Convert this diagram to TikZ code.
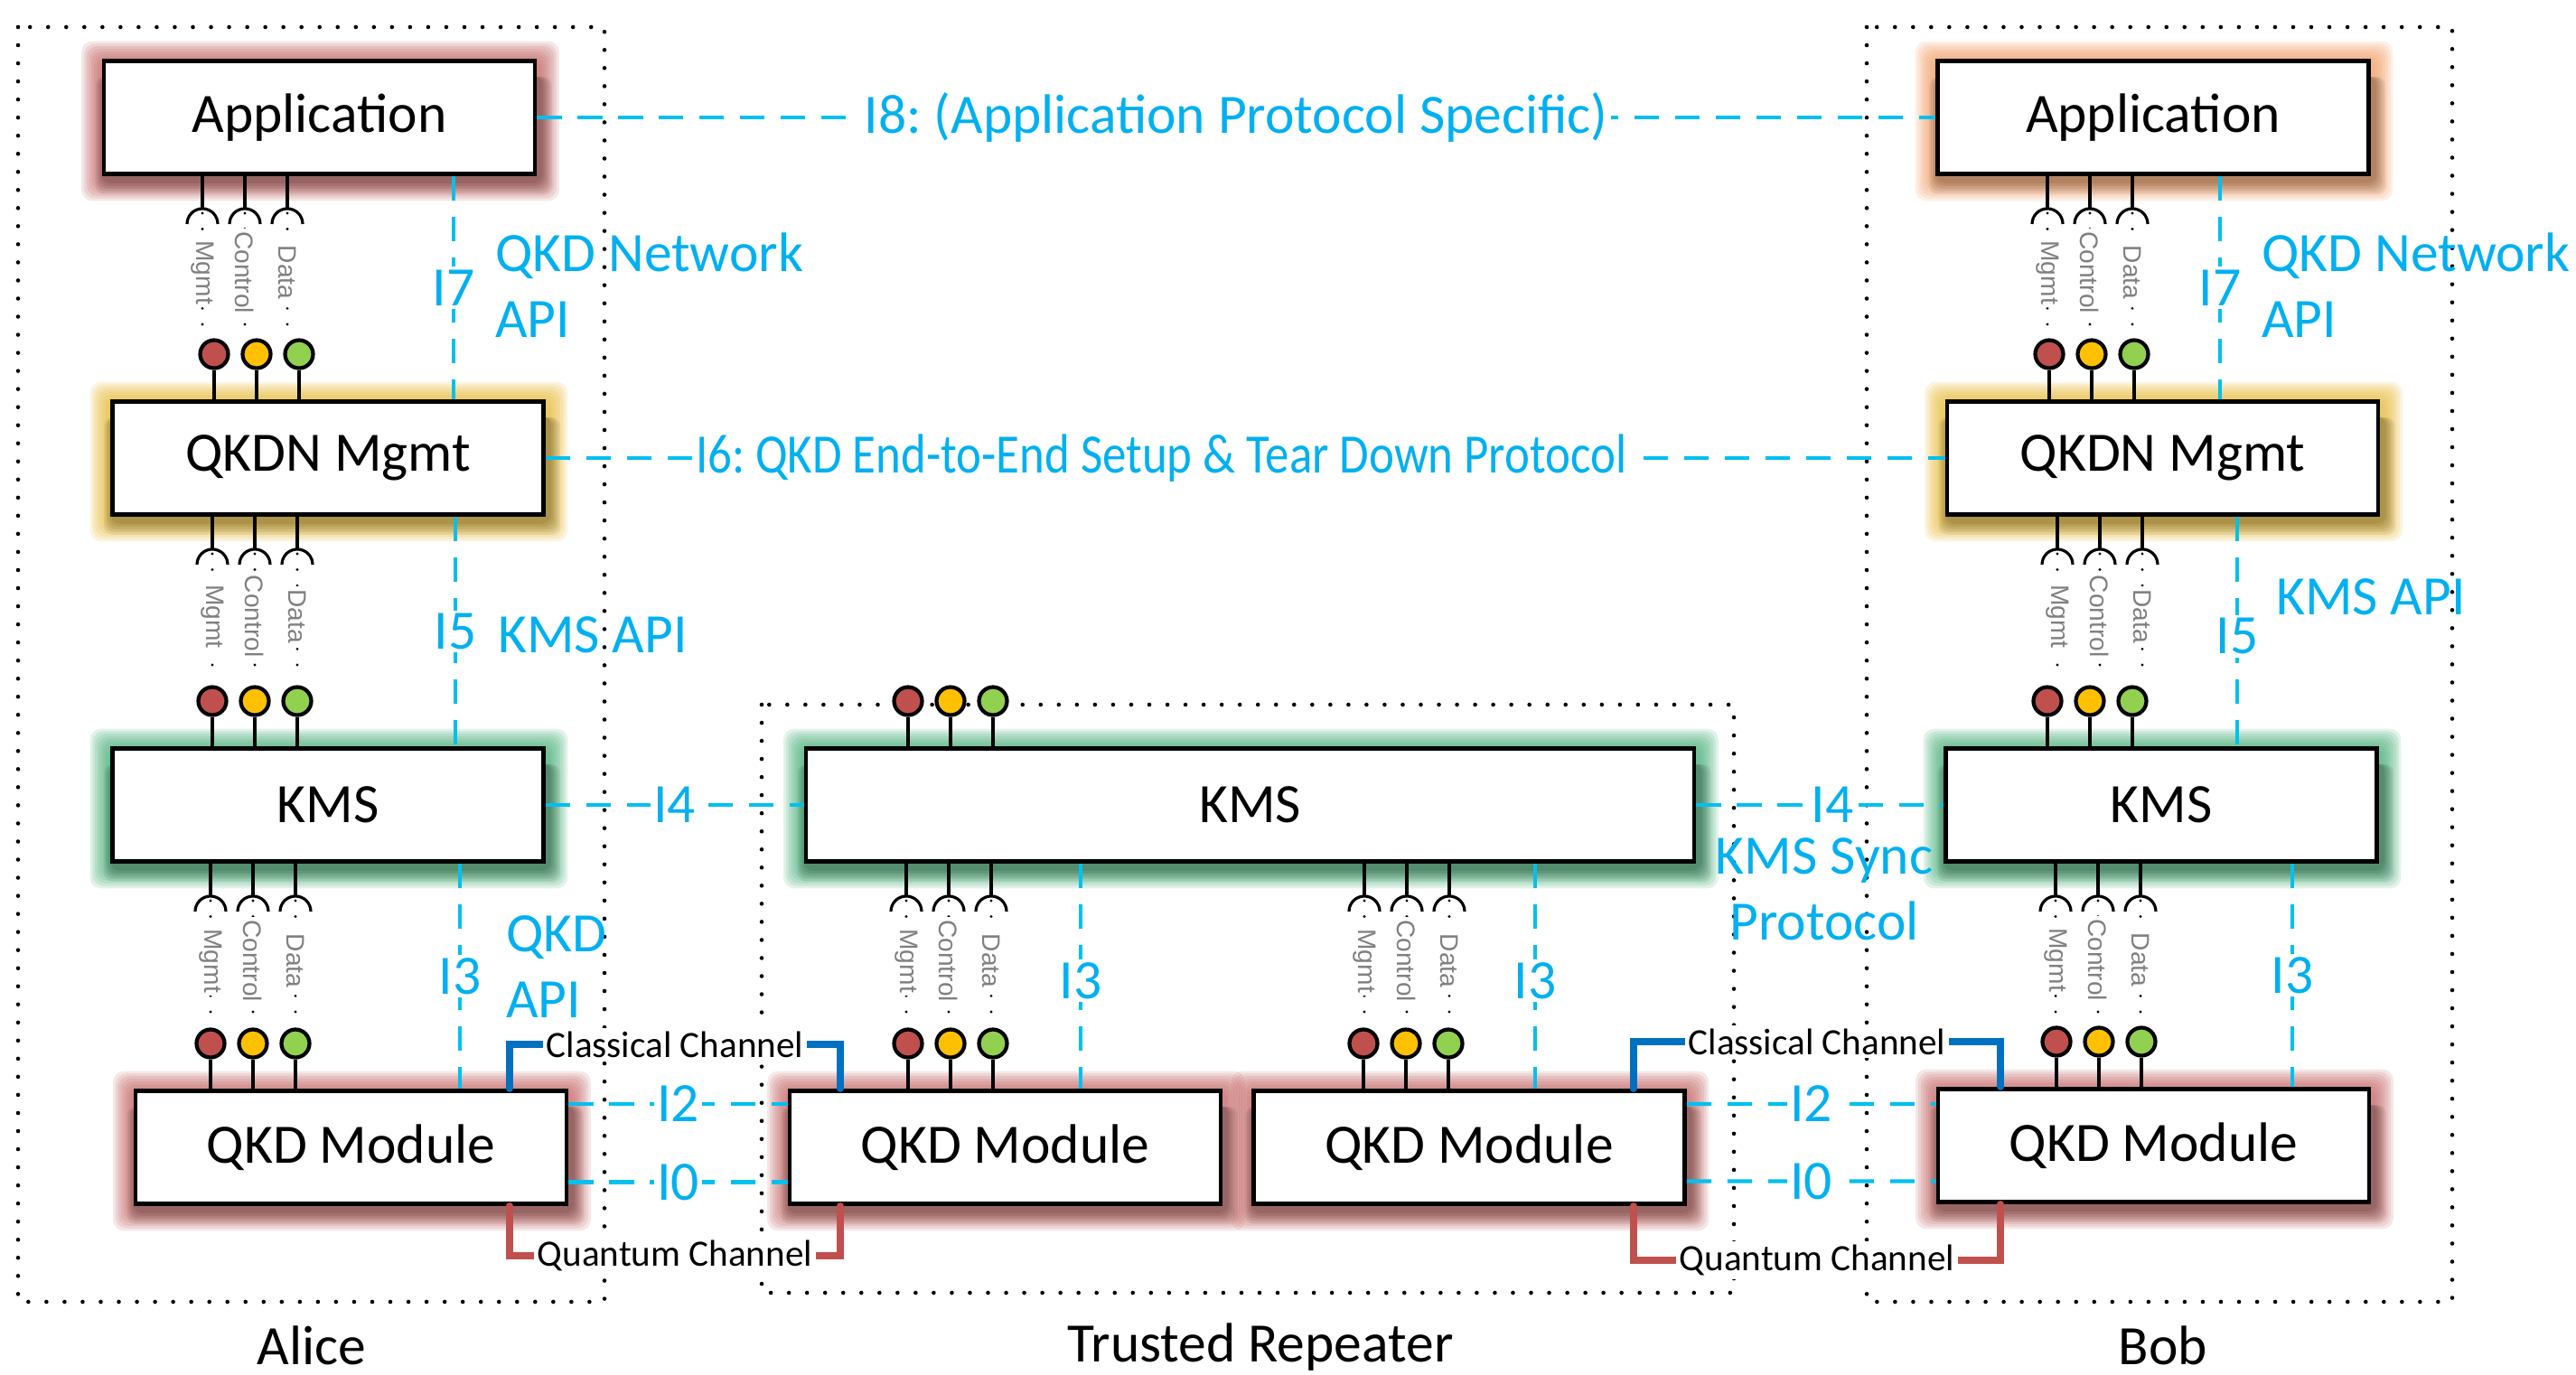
\documentclass[tikz,border=0pt]{standalone}
\usepackage{fontspec}
\setmainfont{Carlito}
\newfontfamily\tagfont{Liberation Sans}
\usepackage{tikz}
\usetikzlibrary{calc, backgrounds}

\definecolor{ifcyan}{RGB}{0,176,240}
\definecolor{ifline}{RGB}{0,192,240}
\definecolor{mgmtred}{RGB}{192,80,77}
\definecolor{ctrlyellow}{RGB}{255,192,0}
\definecolor{datagreen}{RGB}{146,208,80}
\definecolor{chblue}{RGB}{0,112,192}
\definecolor{chred}{RGB}{192,80,77}
\definecolor{glowred}{RGB}{190,92,90}
\definecolor{gloworange}{RGB}{240,150,90}
\definecolor{glowgold}{RGB}{228,180,40}
\definecolor{glowgreen}{RGB}{60,168,110}

% socket on the upper block, lollipop on the lower one
\newcommand{\lollilink}[4]{%
  \foreach \lbl/\col [count=\i from 0] in {Mgmt/mgmtred,Control/ctrlyellow,Data/datagreen}{%
    \pgfmathsetmacro{\xs}{#3+0.47*\i}%
    \pgfmathsetmacro{\xb}{#4+0.47*\i}%
    \draw[stub] (\xs,0 |- #1.south) -- ++(0,-0.36) coordinate (top);
    \draw[stub] ($(top)+(-0.17,-0.17)$) arc[start angle=180, end angle=0, radius=0.17];
    \node[ball, fill=\col, yshift=0.5cm] (pin) at (\xb,0 |- #2.north) {};
    \draw[stub] (pin) -- (pin |- #2.north);
    \draw[tagline] ($(top)+(0,-0.05)$) -- ($(top |- pin.north)+(0,0.07)$) node[midway, tag]{\lbl};
  }}

\newcommand{\glowbox}[2]{%
  \foreach \k in {1,...,8}{%
    \fill[#2, opacity=0.15, rounded corners=0.12cm] ([shift={(-0.028*\k,0.028*\k-0.03)}]#1.north west) rectangle ([shift={(0.028*\k+0.02,-0.028*\k-0.05)}]#1.south east);}%
  \foreach \k in {1,...,5}{%
    \fill[black, opacity=0.06, rounded corners=0.1cm] ([shift={(-0.02*\k+0.03,-0.2)}]#1.north west) rectangle ([shift={(0.025*\k+0.04,-0.03*\k-0.05)}]#1.south east);}%
}

\begin{document}
\frenchspacing
\begin{tikzpicture}[
    block/.style={draw, line width=1.4pt, fill=white, minimum width=4.77cm, minimum height=1.25cm, inner sep=0pt, font=\fontsize{17.5}{20}\selectfont},
    group/.style={line width=1.3pt, line cap=round, dash pattern=on 0pt off 5.7pt},
    iface/.style={ifline, line width=1.2pt, dash pattern=on 7.7pt off 5.1pt},
    ilabel/.style={text=ifcyan, inner sep=1pt, font=\fontsize{17.5}{20.7}\selectfont},
    stub/.style={line width=0.9pt},
    ball/.style={circle, draw, line width=1.2pt, minimum size=0.31cm, inner sep=0pt},
    tag/.style={text=gray, fill=white, rotate=-90, inner sep=1pt, font=\tagfont\fontsize{8}{9}\selectfont},
    tagline/.style={line width=0.9pt, line cap=round, dash pattern=on 0pt off 5pt},
    chan/.style={line width=2.2pt, line cap=round},
    chlabel/.style={text=black, fill=white, inner sep=1pt, font=\fontsize{11.7}{13}\selectfont},
    site/.style={anchor=base, inner sep=0pt, font=\fontsize{17.5}{20}\selectfont}]
\useasboundingbox (0,0) rectangle (28.51,-15.22);

\draw[group] (0.20,-0.30) rectangle (6.69,-14.41);
\draw[group] (8.43,-7.80) rectangle (19.19,-14.31);
\draw[group] (20.66,-0.30) rectangle (27.14,-14.41);
\node[site] (alice) at (3.45,-15.10) {Alice};
\node[site] (repeater) at (13.95,-15.07) {Trusted Repeater};
\node[site] (bob) at (23.94,-15.10) {Bob};

\node[block] (aapp) at (3.535,-1.30) {Application};
\node[block] (amgmt) at (3.63,-5.07) {QKDN Mgmt};
\node[block] (akms) at (3.63,-8.91) {KMS};
\node[block] (amod) at (3.885,-12.70) {QKD Module};
\node[block, minimum width=9.83cm] (rkms) at (13.835,-8.91) {KMS};
\node[block] (rmod1) at (11.125,-12.70) {QKD Module};
\node[block] (rmod2) at (16.26,-12.70) {QKD Module};
\node[block] (bapp) at (23.83,-1.30) {Application};
\node[block] (bmgmt) at (23.935,-5.07) {QKDN Mgmt};
\node[block] (bkms) at (23.92,-8.91) {KMS};
\node[block] (bmod) at (23.835,-12.68) {QKD Module};

\begin{pgfonlayer}{background}
  \foreach \b/\c in {aapp/glowred,amod/glowred,rmod1/glowred,rmod2/glowred,bmod/glowred,bapp/gloworange,amgmt/glowgold,bmgmt/glowgold,akms/glowgreen,rkms/glowgreen,bkms/glowgreen}{\glowbox{\b}{\c}}
\end{pgfonlayer}

\lollilink{aapp}{amgmt}{2.24}{2.37}
\lollilink{amgmt}{akms}{2.35}{2.35}
\lollilink{akms}{amod}{2.33}{2.33}
\lollilink{rkms}{rmod1}{10.03}{10.05}
\lollilink{rkms}{rmod2}{15.10}{15.09}
\lollilink{bapp}{bmgmt}{22.66}{22.68}
\lollilink{bmgmt}{bkms}{22.77}{22.66}
\lollilink{bkms}{bmod}{22.75}{22.76}
\foreach \col [count=\i from 0] in {mgmtred,ctrlyellow,datagreen}{
  \pgfmathsetmacro{\xb}{10.05+0.47*\i}
  \node[ball, fill=\col, yshift=0.5cm] (rtop\i) at (\xb,0 |- rkms.north) {};
  \draw[stub] (rtop\i) -- (rtop\i |- rkms.north);
}

\draw[iface] (aapp.east) -- node[ilabel, fill=white] (i8) {I8: (Application Protocol Specific)} (bapp.west);
\draw[iface] (amgmt.east) -- node[ilabel, fill=white, pos=0.44] (i6) {\scalebox{0.86}[1]{I6: QKD End-to-End Setup \& Tear Down Protocol}} (bmgmt.west);
\draw[iface] (akms.east) -- node[ilabel, fill=white] (i4a) {I4} (rkms.west);
\draw[iface] (rkms.east) -- node[ilabel, fill=white, pos=0.55] (i4b) {I4} (bkms.west);
\node[ilabel, align=center] (sync) at (20.19,-9.84) {KMS Sync\\Protocol};
\draw[iface] ([yshift=0.48cm]amod.east) -- node[ilabel, fill=white] (i2a) {I2} ([yshift=0.48cm]rmod1.west);
\draw[iface] ([yshift=-0.385cm]amod.east) -- node[ilabel, fill=white] (i0a) {I0} ([yshift=-0.385cm]rmod1.west);
\draw[iface] ([yshift=0.48cm]rmod2.east) -- node[ilabel, fill=white] (i2b) {I2} ([yshift=0.46cm]bmod.west);
\draw[iface] ([yshift=-0.375cm]rmod2.east) -- node[ilabel, fill=white] (i0b) {I0} ([yshift=-0.395cm]bmod.west);

\draw[iface] (5.02,0 |- aapp.south) -- node[ilabel, fill=white] (i7a) {I7} (5.02,0 |- amgmt.north);
\node[ilabel, align=left, anchor=west] (netapia) at (5.44,-3.16) {QKD Network\\API};
\draw[iface] (5.04,0 |- amgmt.south) -- node[ilabel, fill=white] (i5a) {I5} (5.04,0 |- akms.north);
\node[ilabel, anchor=west] (kmsapia) at (5.47,-7.03) {KMS API};
\draw[iface] (5.09,0 |- akms.south) -- node[ilabel, fill=white] (i3a) {I3} (5.09,0 |- amod.north);
\node[ilabel, align=left, anchor=west] (qkdapia) at (5.56,-10.70) {QKD\\API};
\draw[iface] (11.96,0 |- rkms.south) -- node[ilabel, fill=white, pos=0.52] (i3b) {I3} (11.96,0 |- rmod1.north);
\draw[iface] (16.99,0 |- rkms.south) -- node[ilabel, fill=white, pos=0.52] (i3c) {I3} (16.99,0 |- rmod2.north);
\draw[iface] (24.57,0 |- bapp.south) -- node[ilabel, fill=white] (i7b) {I7} (24.57,0 |- bmgmt.north);
\node[ilabel, align=left, anchor=west] (netapib) at (24.99,-3.16) {QKD Network\\API};
\draw[iface] (24.76,0 |- bmgmt.south) -- node[ilabel, fill=white, pos=0.52] (i5b) {I5} (24.76,0 |- bkms.north);
\node[ilabel, anchor=west] (kmsapib) at (25.15,-6.61) {KMS API};
\draw[iface] (25.37,0 |- bkms.south) -- node[ilabel, fill=white] (i3d) {I3} (25.37,0 |- bmod.north);

\draw[chan, chblue] (5.64,0 |- amod.north) -- (5.64,-11.56) -| node[chlabel, pos=0.25] (cla) {Classical Channel} (9.30,0 |- rmod1.north);
\draw[chan, chred] (5.64,0 |- amod.south) -- (5.64,-13.90) -| node[chlabel, pos=0.25] (qua) {Quantum Channel} (9.30,0 |- rmod1.south);
\draw[chan, chblue] (18.08,0 |- rmod2.north) -- (18.08,-11.53) -| node[chlabel, pos=0.25] (clb) {Classical Channel} (22.14,0 |- bmod.north);
\draw[chan, chred] (18.08,0 |- rmod2.south) -- (18.08,-13.95) -| node[chlabel, pos=0.25] (qub) {Quantum Channel} (22.14,0 |- bmod.south);
\end{tikzpicture}
\end{document}
